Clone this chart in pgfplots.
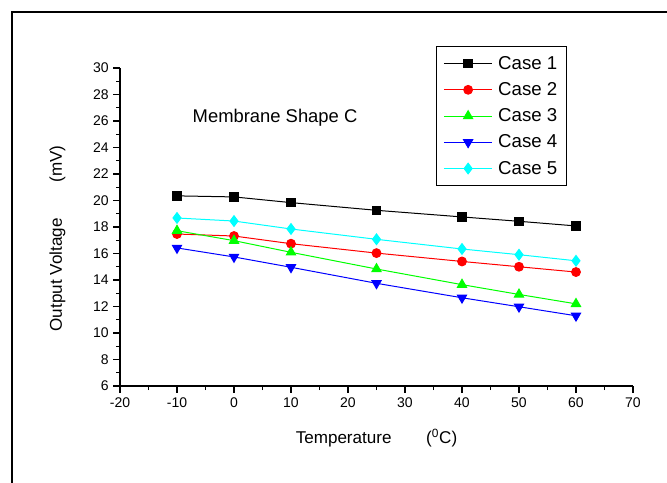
\documentclass[border=0pt]{standalone}
\usepackage{fontspec}
\setmainfont{Liberation Sans}
\usepackage{pgfplots}
\pgfplotsset{compat=1.18}
\definecolor{cgreen}{RGB}{0,255,0}
\definecolor{ccyan}{RGB}{0,255,255}
\definecolor{cblue}{RGB}{0,0,255}
\definecolor{cred}{RGB}{255,0,0}
\begin{document}
\begin{tikzpicture}
\useasboundingbox (0,0) rectangle (500.25pt,361.5pt);
\draw[line width=1.5pt] (9pt,-20pt) -- (9pt,352.5pt) -- (520pt,352.5pt);
\begin{axis}[
  at={(90pt,72pt)}, anchor=south west,
  scale only axis, width=384.75pt, height=238.5pt,
  axis x line=bottom, axis y line=left,
  axis line style={-, line width=1.1pt},
  xmin=-20, xmax=70, ymin=6, ymax=30,
  xtick distance=10, ytick distance=2,
  minor x tick num=1, minor y tick num=1,
  tick align=outside,
  major tick length=5pt, minor tick length=3pt,
  every tick/.style={black, line width=0.9pt},
  tick label style={font=\fontsize{10.5}{12}\selectfont},
  /pgf/number format/assume math mode=true,
  xlabel={Temperature\hspace{26pt}(\textsuperscript{0}C)},
  ylabel={Output Voltage\hspace{27pt}(mV)},
  label style={font=\fontsize{12.8}{15}\selectfont},
  xlabel style={at={(axis description cs:0.5,-0.164)}, anchor=center},
  ylabel style={at={(axis description cs:-0.122,0.464)}, anchor=center},
  legend style={at={(rel axis cs:0.616,1.069)}, anchor=north west,
    draw=black, line width=1pt, font=\fontsize{14}{16}\selectfont,
    row sep=4.4pt, column sep=2pt, inner xsep=5pt, inner ysep=5pt},
  legend cell align=left,
  legend image code/.code={\draw[mark repeat=2,mark phase=2,line width=0.75pt] plot coordinates {(0cm,0cm)(0.64cm,0cm)(1.28cm,0cm)};},
  every axis plot/.append style={line width=0.75pt},
]
\addplot[black, mark=square*, mark size=3.2pt] coordinates {(-10,20.35) (0,20.27) (10,19.84) (25,19.26) (40,18.76) (50,18.43) (60,18.08)};
\addlegendentry{Case 1}
\addplot[cred, mark=*, mark size=3.3pt] coordinates {(-10,17.47) (0,17.32) (10,16.74) (25,16.03) (40,15.40) (50,15.00) (60,14.60)};
\addlegendentry{Case 2}
\addplot[cgreen, mark=triangle*, mark size=4pt] coordinates {(-10,17.72) (0,16.97) (10,16.09) (25,14.83) (40,13.65) (50,12.91) (60,12.20)};
\addlegendentry{Case 3}
\addplot[cblue, mark=triangle*, mark options={rotate=180}, mark size=4pt] coordinates {(-10,16.42) (0,15.74) (10,14.96) (25,13.75) (40,12.66) (50,11.98) (60,11.30)};
\addlegendentry{Case 4}
\addplot[ccyan, mark=diamond*, mark size=4pt] coordinates {(-10,18.68) (0,18.45) (10,17.85) (25,17.07) (40,16.34) (50,15.91) (60,15.45)};
\addlegendentry{Case 5}
\node[anchor=base, font=\fontsize{13.8}{16}\selectfont] at (axis cs:7.2,25.85) {Membrane Shape C};
\end{axis}
\end{tikzpicture}
\end{document}
